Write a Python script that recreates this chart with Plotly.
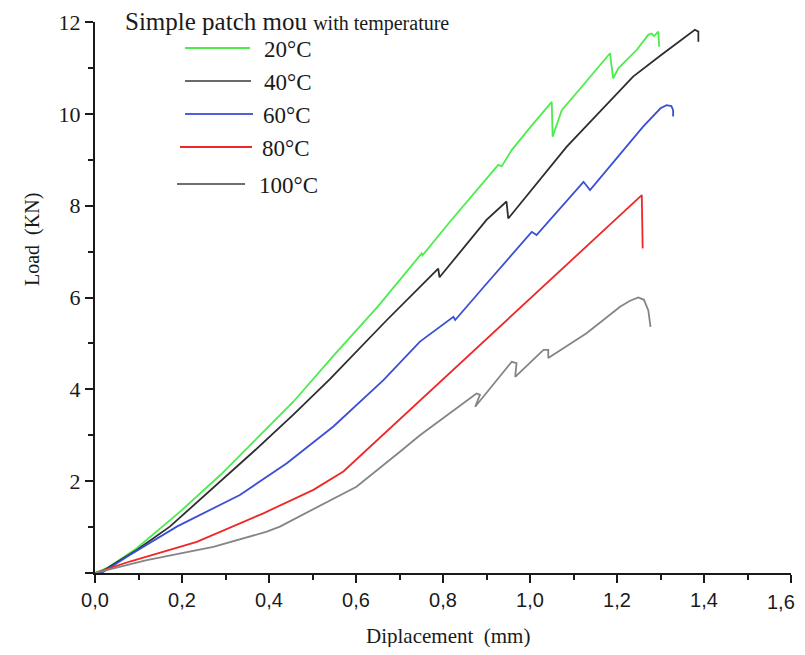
import plotly.graph_objects as go

# ---- data ----
x20 = [0, 0.03, 0.096, 0.195, 0.29, 0.364, 0.456, 0.55, 0.65, 0.751, 0.753, 0.816, 0.927, 0.935, 0.958, 1.0, 1.05, 1.052, 1.073, 1.12, 1.184, 1.191, 1.203, 1.245, 1.272, 1.280, 1.285, 1.295, 1.297]
y20 = [0, 0.12, 0.54, 1.33, 2.15, 2.86, 3.73, 4.75, 5.8, 6.96, 6.92, 7.65, 8.89, 8.86, 9.21, 9.7, 10.26, 9.5, 10.08, 10.6, 11.32, 10.77, 10.99, 11.39, 11.72, 11.75, 11.69, 11.79, 11.46]

x40 = [0.01, 0.096, 0.172, 0.26, 0.364, 0.456, 0.54, 0.671, 0.789, 0.792, 0.816, 0.9, 0.946, 0.950, 1.084, 1.237, 1.30, 1.35, 1.379, 1.387, 1.387]
y40 = [0, 0.50, 1.01, 1.76, 2.64, 3.45, 4.22, 5.51, 6.63, 6.44, 6.72, 7.69, 8.09, 7.72, 9.28, 10.81, 11.27, 11.62, 11.83, 11.79, 11.57]

x60 = [0.015, 0.08, 0.188, 0.333, 0.441, 0.548, 0.663, 0.747, 0.824, 0.828, 0.90, 1.004, 1.015, 1.123, 1.138, 1.214, 1.26, 1.30, 1.314, 1.325, 1.329, 1.329]
y60 = [0, 0.39, 1.01, 1.70, 2.39, 3.19, 4.2, 5.04, 5.58, 5.51, 6.3, 7.43, 7.36, 8.52, 8.34, 9.21, 9.72, 10.12, 10.19, 10.17, 10.08, 9.94]

x80 = [0, 0.08, 0.234, 0.387, 0.502, 0.571, 1.257, 1.259]
y80 = [0, 0.25, 0.68, 1.30, 1.81, 2.21, 8.23, 7.07]

x100 = [0, 0.119, 0.272, 0.395, 0.425, 0.601, 0.701, 0.747, 0.877, 0.885, 0.874, 0.958, 0.969, 0.966, 1.031, 1.042, 1.042, 1.130, 1.207, 1.23, 1.249, 1.262, 1.272, 1.277]
y100 = [0, 0.28, 0.57, 0.90, 1.01, 1.88, 2.64, 3.0, 3.91, 3.88, 3.62, 4.60, 4.57, 4.27, 4.86, 4.86, 4.68, 5.22, 5.80, 5.93, 6.00, 5.95, 5.72, 5.36]

names = ["20°C", "40°C", "60°C", "80°C", "100°C"]
colors = ["#4cec4c", "#2e2e2e", "#3b4fd6", "#ee2828", "#858585"]
legend_colors = ["#4cec4c", "#6a6a6a", "#5060d8", "#ee2828", "#6f6f6f"]

x_ticks = [0, 0.2, 0.4, 0.6, 0.8, 1.0, 1.2, 1.4, 1.6]
x_ticktext = ["0,0", "0,2", "0,4", "0,6", "0,8", "1,0", "1,2", "1,4", ""]
x_last_label = "1,6"   # drawn separately so it is not clipped at the right edge
y_ticks = [0, 2, 4, 6, 8, 10, 12]
y_ticktext = ["", "2", "4", "6", "8", "10", "12"]

series_x = [x20, x40, x60, x80, x100]
series_y = [y20, y40, y60, y80, y100]

# ---- layout geometry ----
# The page body has an 8px margin, so the figure is drawn 8px right/down.
OFF = 8
W, H = 805 - OFF, 655 - 2 * OFF
PL, PR, PT, PB = 95, 791, 22, 573          # plot area in page pixels
L, T = PL - OFF, PT - OFF
R = W - (PR - OFF)
B = H - (PB - OFF)
PW, PH = PR - PL, PB - PT

def px(xp):      # page pixel x -> paper
    return (xp - PL) / PW

def py(yp):      # page pixel y -> paper
    return (PB - yp) / PH

fig = go.Figure()
for xs, ys, nm, c in zip(series_x, series_y, names, colors):
    fig.add_trace(go.Scatter(x=xs, y=ys, mode="lines", name=nm,
                             line=dict(color=c, width=1.8), showlegend=False))

serif = "Liberation Serif"
ink = "#1a1a1a"

# manual legend
leg_rows = [48, 81, 114, 147, 184]
leg_x0 = [185, 185, 185, 180, 177]
leg_x1 = [250, 251, 253, 252, 245]
leg_tx = [262, 262, 261, 260, 257]
shapes = []
annotations = []
for i, nm in enumerate(names):
    shapes.append(dict(type="line", xref="paper", yref="paper",
                       x0=px(leg_x0[i]), x1=px(leg_x1[i]),
                       y0=py(leg_rows[i]), y1=py(leg_rows[i]),
                       line=dict(color=legend_colors[i], width=1.8)))
    annotations.append(dict(xref="paper", yref="paper", x=px(leg_tx[i]), y=py(leg_rows[i] + 1),
                            text=nm, showarrow=False, xanchor="left", yanchor="middle",
                            font=dict(family=serif, size=23, color=ink)))

annotations.append(dict(xref="paper", yref="paper", x=px(123), y=py(21),
                        text="Simple patch mou <span style='font-size:20px'>with temperature</span>",
                        showarrow=False, xanchor="left", yanchor="middle",
                        font=dict(family=serif, size=25, color=ink)))

# last x tick label, kept inside the visible page
annotations.append(dict(xref="x", yref="paper", x=x_ticks[-1], y=py(602),
                        text=x_last_label, showarrow=False, xanchor="center", yanchor="middle",
                        xshift=-10,
                        font=dict(family="Liberation Sans", size=20, color=ink)))

# axis titles
annotations.append(dict(xref="paper", yref="paper", x=px(448), y=py(636),
                        text="Diplacement  (mm)", showarrow=False,
                        xanchor="center", yanchor="middle",
                        font=dict(family=serif, size=21, color=ink)))
annotations.append(dict(xref="paper", yref="paper", x=px(33), y=py(240),
                        text="Load  (KN)", showarrow=False, textangle=-90,
                        xanchor="center", yanchor="middle",
                        font=dict(family=serif, size=20, color=ink)))

fig.update_layout(
    width=W, height=H,
    margin=dict(l=L, r=R, t=T, b=B, autoexpand=False),
    plot_bgcolor="white", paper_bgcolor="white",
    shapes=shapes, annotations=annotations,
    showlegend=False,
)

fig.update_xaxes(
    range=[0, 1.6], tickvals=x_ticks, ticktext=x_ticktext,
    showgrid=False, zeroline=False, automargin=False,
    showline=True, linecolor=ink, linewidth=2,
    ticks="outside", ticklen=8, tickwidth=2, tickcolor=ink,
    minor=dict(dtick=0.1, ticks="outside", ticklen=5, tickwidth=2, tickcolor=ink, showgrid=False),
    tickfont=dict(family="Liberation Sans", size=20, color=ink),
)
fig.update_yaxes(
    range=[0, 12], tickvals=y_ticks, ticktext=y_ticktext,
    showgrid=False, zeroline=False, automargin=False,
    showline=True, linecolor=ink, linewidth=2,
    ticks="outside", ticklen=8, tickwidth=2, tickcolor=ink,
    minor=dict(dtick=1, ticks="outside", ticklen=5, tickwidth=2, tickcolor=ink, showgrid=False),
    tickfont=dict(family=serif, size=22, color=ink),
)

fig.write_html("out.html")
